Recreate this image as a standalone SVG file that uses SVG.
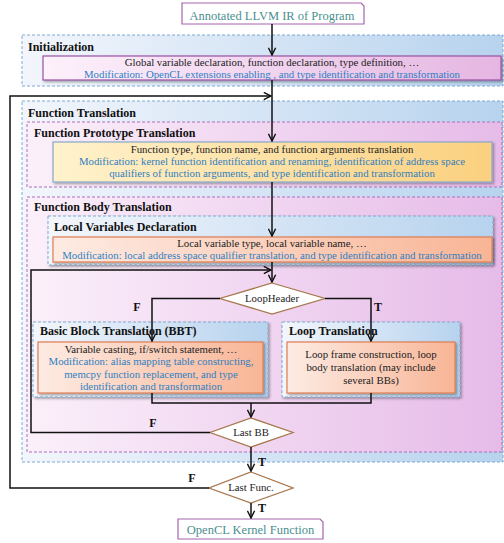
<svg xmlns="http://www.w3.org/2000/svg" width="504" height="543" viewBox="0 0 504 543">
  <defs>
    <linearGradient id="gBlue" x1="0" y1="0" x2="1" y2="0">
      <stop offset="0" stop-color="#f3f6fc"/>
      <stop offset="1" stop-color="#b7d3ee"/>
    </linearGradient>
    <linearGradient id="gPink" x1="0" y1="0" x2="1" y2="0">
      <stop offset="0" stop-color="#fbf0fa"/>
      <stop offset="1" stop-color="#e6bbe8"/>
    </linearGradient>
    <linearGradient id="gPinkBox" x1="0" y1="0" x2="1" y2="0">
      <stop offset="0" stop-color="#fdf1fb"/>
      <stop offset="1" stop-color="#e5b6e2"/>
    </linearGradient>
    <linearGradient id="gYellow" x1="0" y1="0" x2="1" y2="0">
      <stop offset="0" stop-color="#fff2cc"/>
      <stop offset="1" stop-color="#fbd07f"/>
    </linearGradient>
    <linearGradient id="gOrange" x1="0" y1="0" x2="1" y2="0">
      <stop offset="0" stop-color="#fdebe3"/>
      <stop offset="1" stop-color="#f8b596"/>
    </linearGradient>
    <filter id="shadow" x="-5%" y="-20%" width="110%" height="140%">
      <feDropShadow dx="1.5" dy="1.5" stdDeviation="1" flood-color="#000" flood-opacity="0.35"/>
    </filter>
    <marker id="arrow" viewBox="0 0 10 10" refX="9" refY="5" markerWidth="9" markerHeight="9" markerUnits="userSpaceOnUse" orient="auto">
      <path d="M1,1 L9,5 L1,9" fill="none" stroke="#111" stroke-width="1.6"/>
    </marker>
  </defs>
  <style>
    text { font-family: "Liberation Serif", "Times New Roman", serif; }
    .sec { font-size: 12px; font-weight: bold; fill: #111; }
    .body { font-size: 10.8px; fill: #222; text-anchor: middle; }
    .mod { font-size: 10.8px; fill: #2f7fc1; text-anchor: middle; }
    .term { font-size: 12.5px; fill: #4a8f8f; text-anchor: middle; }
    .dec { font-size: 10.8px; fill: #222; text-anchor: middle; }
    .tf { font-size: 12px; font-weight: bold; fill: #111; text-anchor: middle; }
    .cBlue { fill: url(#gBlue); stroke: #7ea8cf; stroke-width: 1; stroke-dasharray: 3 2; }
    .cPink { fill: url(#gPink); stroke: #b06cba; stroke-width: 1; stroke-dasharray: 3 2; }
    .bPink { fill: url(#gPinkBox); stroke: #9a52a4; stroke-width: 1.2; }
    .bYellow { fill: url(#gYellow); stroke: #86aacb; stroke-width: 1.2; }
    .bOrange { fill: url(#gOrange); stroke: #df7d52; stroke-width: 1.2; }
    .terminal { fill: #fff; stroke: #a764ad; stroke-width: 1.2; }
    .diamond { fill: #fff; stroke: #a7774e; stroke-width: 1.3; }
    .wire { fill: none; stroke: #111; stroke-width: 1.5; }
  </style>

  <!-- start terminal -->
  <g id="start">
    <path class="terminal" d="M182,3 H361 L364,6 V24 H182 Z"/>
    <text class="term" x="272" y="20">Annotated LLVM IR of Program</text>
  </g>

  <!-- initialization stage -->
  <g id="initialization">
    <rect class="cBlue" x="22" y="35" width="481" height="51"/>
    <text class="sec" x="28" y="50.5">Initialization</text>
    <rect class="bPink" x="43" y="56" width="458" height="24" filter="url(#shadow)"/>
    <text class="body" x="272" y="65.5">Global variable declaration, function declaration, type definition, …</text>
    <text class="mod" x="272" y="77.5" textLength="376" lengthAdjust="spacing">Modification: OpenCL extensions enabling , and type identification and transformation</text>
  </g>

  <!-- function translation stage -->
  <g id="function-translation">
    <rect class="cBlue" x="22" y="101" width="481" height="361"/>
    <text class="sec" x="28" y="117">Function Translation</text>
  </g>

  <g id="function-prototype">
    <rect class="cPink" x="27" y="122" width="475" height="65"/>
    <text class="sec" x="34" y="137">Function Prototype Translation</text>
    <rect class="bYellow" x="53" y="142" width="439" height="40" filter="url(#shadow)"/>
    <text class="body" x="272" y="153">Function type, function name, and function arguments translation</text>
    <text class="mod" x="272" y="165">Modification: kernel function identification and renaming, identification of address space</text>
    <text class="mod" x="272" y="177">qualifiers of function arguments, and type identification and transformation</text>
  </g>

  <g id="function-body">
    <rect class="cPink" x="27" y="197" width="475" height="255"/>
    <text class="sec" x="34" y="211">Function Body Translation</text>
  </g>

  <g id="local-variables">
    <rect class="cBlue" x="48" y="216" width="445" height="49" filter="url(#shadow)"/>
    <text class="sec" x="54" y="231">Local Variables Declaration</text>
    <rect class="bOrange" x="53" y="237" width="439" height="25" filter="url(#shadow)"/>
    <text class="body" x="272" y="246.5">Local variable type, local variable name, …</text>
    <text class="mod" x="272" y="259">Modification: local address space qualifier translation, and type identification and transformation</text>
  </g>

  <g id="loop-header">
    <polygon class="diamond" points="272,283 325,298.5 272,314 220,298.5"/>
    <text class="dec" x="272" y="302">LoopHeader</text>
  </g>

  <g id="basic-block">
    <rect class="cBlue" x="33" y="322" width="235" height="75" filter="url(#shadow)"/>
    <text class="sec" x="40" y="335">Basic Block Translation (BBT)</text>
    <rect class="bOrange" x="38" y="342" width="225" height="51" filter="url(#shadow)"/>
    <text class="body" x="151" y="352.5">Variable casting,  if/switch statement, …</text>
    <text class="mod" x="151" y="365">Modification: alias mapping table constructing,</text>
    <text class="mod" x="151" y="377.5">memcpy function replacement, and type</text>
    <text class="mod" x="151" y="390">identification  and transformation</text>
  </g>

  <g id="loop-translation">
    <rect class="cBlue" x="282" y="322" width="178" height="75" filter="url(#shadow)"/>
    <text class="sec" x="289" y="335">Loop Translation</text>
    <rect class="bOrange" x="287" y="342" width="168" height="51" filter="url(#shadow)"/>
    <text class="body" x="371" y="357.5">Loop frame construction, loop</text>
    <text class="body" x="371" y="371">body translation (may include</text>
    <text class="body" x="371" y="383.5">several BBs)</text>
  </g>

  <g id="last-bb">
    <polygon class="diamond" points="251,418 293,432.5 251,447 210,432.5"/>
    <text class="dec" x="251" y="436">Last BB</text>
  </g>

  <g id="last-func">
    <polygon class="diamond" points="251,472 293,488 251,503 209,488"/>
    <text class="dec" x="251" y="491">Last Func.</text>
  </g>

  <!-- end terminal -->
  <g id="end">
    <path class="terminal" d="M178,519 H320 L323,522 V539 H178 Z"/>
    <text class="term" x="250.5" y="534">OpenCL Kernel Function</text>
  </g>

  <!-- connectors -->
  <g id="connectors">
    <path class="wire" d="M272,24 V55" marker-end="url(#arrow)"/>
    <path class="wire" d="M272,80 V141" marker-end="url(#arrow)"/>
    <path class="wire" d="M209,488 H10 V96 H271" marker-end="url(#arrow)"/>
    <path class="wire" d="M272,182 V236" marker-end="url(#arrow)"/>
    <path class="wire" d="M272,262 V282" marker-end="url(#arrow)"/>
    <path class="wire" d="M210,432.5 H31 V270 H271" marker-end="url(#arrow)"/>
    <path class="wire" d="M220,298.5 H152 V341" marker-end="url(#arrow)"/>
    <path class="wire" d="M325,298.5 H371 V341" marker-end="url(#arrow)"/>
    <path class="wire" d="M152,393 V403 H371 V393"/>
    <path class="wire" d="M251,403 V417" marker-end="url(#arrow)"/>
    <path class="wire" d="M251,447 V471" marker-end="url(#arrow)"/>
    <path class="wire" d="M251,503 V518" marker-end="url(#arrow)"/>
    <text class="tf" x="137" y="311">F</text>
    <text class="tf" x="378" y="311">T</text>
    <text class="tf" x="153" y="427">F</text>
    <text class="tf" x="262" y="466">T</text>
    <text class="tf" x="192" y="482">F</text>
    <text class="tf" x="262" y="512">T</text>
  </g>
</svg>
